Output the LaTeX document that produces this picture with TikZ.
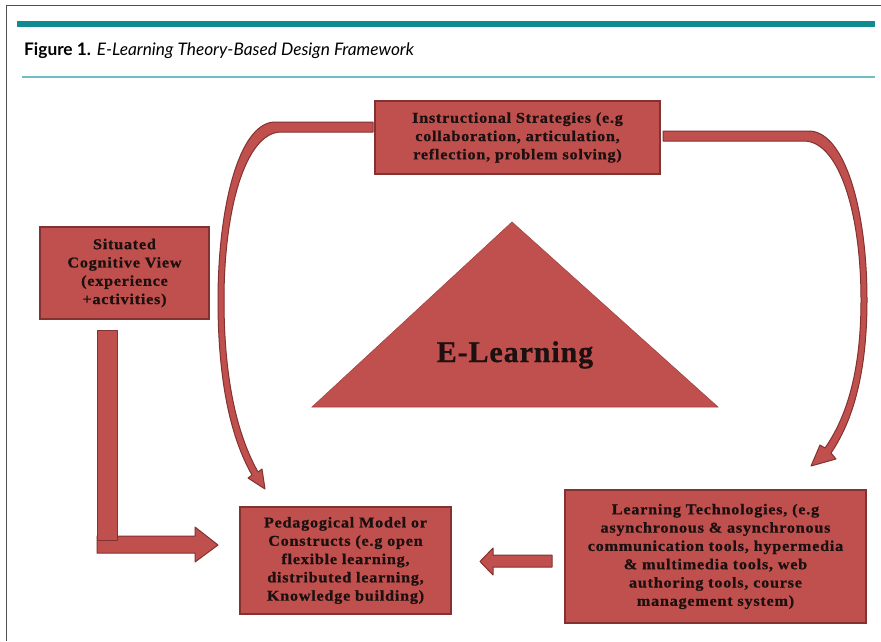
\documentclass[tikz,border=0pt]{standalone}
\usepackage{fontspec}
\setmainfont{Liberation Serif}
\newfontfamily\titlefont{Lato}
\newfontfamily\boxfont[LetterSpace=5,FakeStretch=1.08,FakeBold=0.8]{Liberation Serif}
\newfontfamily\bigfont[LetterSpace=3,FakeBold=0.8]{Liberation Serif}
\definecolor{boxred}{RGB}{192,80,77}
\definecolor{boxedge}{RGB}{130,50,48}
\definecolor{tealA}{RGB}{16,140,145}
\definecolor{tealB}{RGB}{112,190,195}
\definecolor{framegray}{RGB}{80,80,80}
\definecolor{inkdark}{RGB}{28,16,16}
\begin{document}
\begin{tikzpicture}[x=1pt,y=-1pt,
  redbox/.style={draw=boxedge, line width=1.2pt, fill=boxred, rectangle, inner sep=0pt,
     align=center, text=inkdark, font=\boxfont\bfseries\fontsize{15}{18.3}\selectfont},
  redshape/.style={fill=boxred, draw=boxedge, line width=1pt, line join=round}]
\useasboundingbox (0,0) rectangle (881,641);
\fill[white] (0,0) rectangle (881,641);
% frame and header
\draw[framegray, line width=1pt] (6,641) -- (6,5) -- (881,5);
\fill[tealA] (17,21) rectangle (875,27);
\draw[tealB, line width=1.2pt] (22,77) -- (875,77);
\node[anchor=base west, inner sep=0pt, font=\titlefont\fontsize{17.3}{20}\selectfont, text=black] (title) at (24,55)
  {\textbf{Figure 1.} \textit{E-Learning Theory-Based Design Framework}};

% triangle
\fill[boxred, draw=boxred!85!black, line width=0.6pt] (312,407) -- (512,222) -- (718,407) -- cycle;
\node[font=\bigfont\bfseries\fontsize{30}{34}\selectfont, text=inkdark, anchor=base] (elearn) at (515,362) {E-Learning};

% curved arrows
\filldraw[redshape] (373,122) -- (274,122) .. controls (238,124) and (218,210) .. (218,300)
  .. controls (218,385) and (232,440) .. (252,475) -- (248,478) -- (265,489) -- (262,469) -- (258,472)
  .. controls (239,438) and (224,385) .. (224,300) .. controls (224,210) and (245,134) .. (280,132)
  -- (373,132) -- cycle;
\filldraw[redshape] (663,131) -- (810,131) .. controls (845,133) and (867,210) .. (867,300)
  .. controls (867,380) and (850,425) .. (831,453) -- (836,459) -- (811,466) -- (820,445) -- (825,448)
  .. controls (843,422) and (861,380) .. (861,300) .. controls (861,215) and (840,143) .. (805,141)
  -- (663,141) -- cycle;

% L arrow from Situated box
\filldraw[redshape] (97,536) -- (195,536) -- (195,527) -- (218,545) -- (195,562) -- (195,553) -- (97,553) -- cycle;
\filldraw[redshape] (97,330) rectangle (117,540);

% arrow from Learning Technologies to Pedagogical
\filldraw[redshape] (552,555) -- (493,555) -- (493,548) -- (480,561.5) -- (493,575) -- (493,567) -- (552,567) -- cycle;

% boxes
\node[redbox, minimum width=285pt, minimum height=73pt] (instr) at (517.5,137.5)
  {Instructional Strategies (e.g\\ collaboration, articulation,\\ reflection, problem solving)};
\node[redbox, minimum width=169pt, minimum height=92pt] (situ) at (124.5,273)
  {Situated\\ Cognitive View\\ (experience\\ +activities)};
\node[redbox, minimum width=211pt, minimum height=107pt] (peda) at (345.5,560.5)
  {Pedagogical Model or\\ Constructs (e.g open\\ flexible learning,\\ distributed learning,\\ Knowledge building)};
\node[redbox, minimum width=301pt, minimum height=133pt] (tech) at (715.5,556.5)
  {Learning Technologies, (e.g\\ asynchronous \& asynchronous\\ communication tools, hypermedia\\ \& multimedia tools, web\\ authoring tools, course\\ management system)};
\end{tikzpicture}
\end{document}
